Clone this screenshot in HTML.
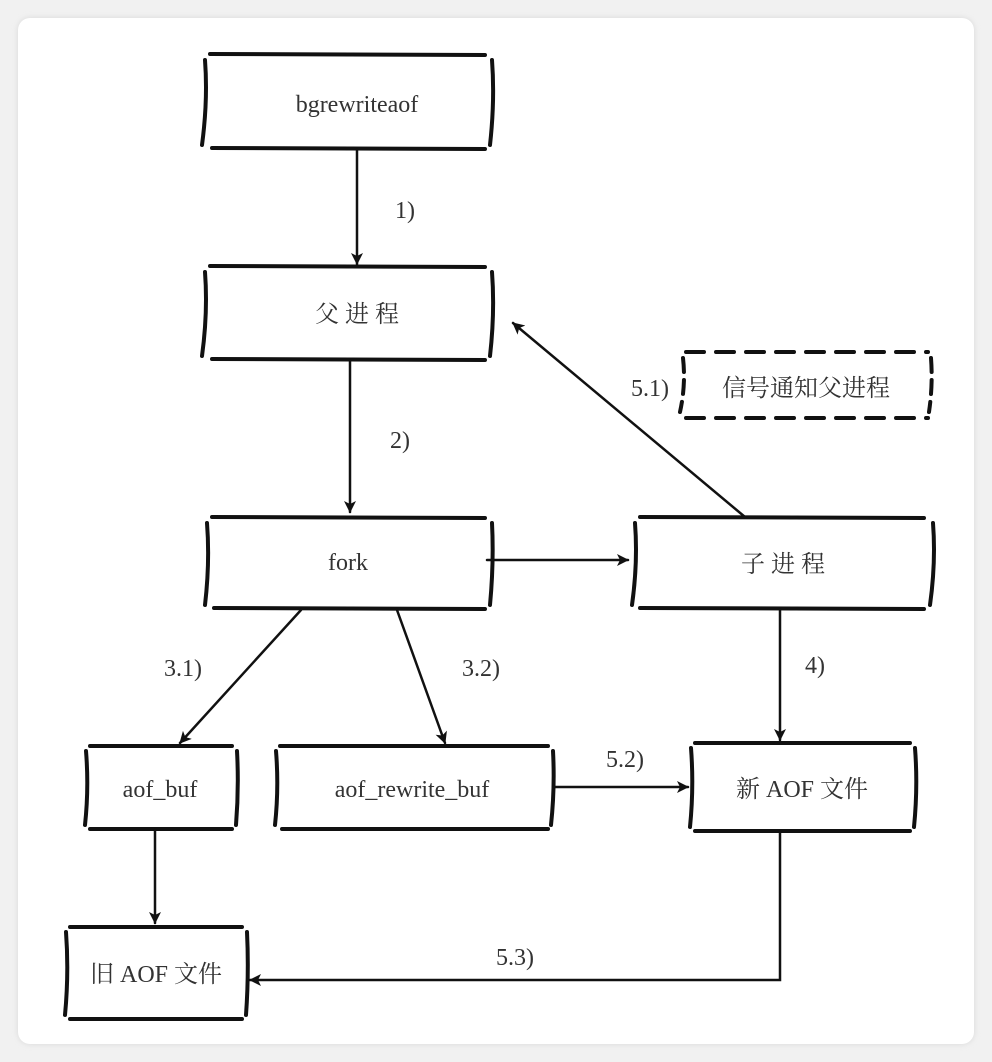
<!DOCTYPE html>
<html><head><meta charset="utf-8"><style>
html,body{margin:0;padding:0;background:#f1f1f1;}
svg{display:block}
text{font-family:"Liberation Serif","Noto Serif CJK SC",serif;fill:#333;}
</style></head><body>
<svg width="992" height="1062" viewBox="0 0 992 1062" xmlns="http://www.w3.org/2000/svg">
<defs>
<filter id="sh" x="-5%" y="-5%" width="110%" height="110%"><feGaussianBlur stdDeviation="3"/></filter>
<marker id="ah" markerWidth="12" markerHeight="12" refX="11" refY="6" orient="auto" markerUnits="userSpaceOnUse">
<path d="M0,0 L12,6 L0,12 L3,6 Z" fill="#111"/></marker>
</defs>
<rect x="18" y="18" width="956" height="1026" rx="12" fill="#d8d8d8" filter="url(#sh)"/>
<rect x="18" y="18" width="956" height="1026" rx="12" fill="#fff"/>
<g stroke="#111" fill="none" stroke-linecap="round">
<!-- boxes -->
<g stroke-width="4">
<!-- bgrewriteaof -->
<path d="M210,54 L485,55 M212,148 L485,149"/>
<path d="M205,60 Q208,100 202,145 M492,60 Q495,100 490,145"/>
<!-- 父进程 -->
<path d="M210,266 L485,267 M212,359 L485,360"/>
<path d="M205,272 Q208,312 202,356 M492,272 Q495,312 490,356"/>
<!-- fork -->
<path d="M212,517 L485,518 M214,608 L485,609"/>
<path d="M207,523 Q210,562 205,605 M492,523 Q494,562 490,605"/>
<!-- 子进程 -->
<path d="M640,517 L924,518 M640,608 L924,609"/>
<path d="M635,523 Q638,562 632,605 M933,523 Q936,562 930,605"/>
<!-- aof_buf -->
<path d="M90,746 L232,746 M90,829 L232,829"/>
<path d="M86,751 Q89,788 85,825 M237,751 Q239,788 236,825"/>
<!-- aof_rewrite_buf -->
<path d="M280,746 L548,746 M282,829 L548,829"/>
<path d="M276,751 Q279,788 275,825 M553,751 Q555,788 551,825"/>
<!-- 新AOF -->
<path d="M695,743 L910,743 M695,831 L910,831"/>
<path d="M691,748 Q694,787 690,827 M915,748 Q918,787 914,827"/>
<!-- 旧AOF -->
<path d="M70,927 L242,927 M70,1019 L242,1019"/>
<path d="M66,932 Q69,973 65,1015 M247,932 Q249,973 246,1015"/>
<!-- dashed -->
<path d="M686,352 L928,352 M686,418 L928,418" stroke-dasharray="18,12"/>
<path d="M683,358 Q686,385 680,412 M931,358 Q933,385 929,412" stroke-dasharray="14,8"/>
</g>
<!-- arrows -->
<g stroke-width="2.5" marker-end="url(#ah)">
<path d="M357,150 L357,264"/>
<path d="M350,361 L350,512"/>
<path d="M487,560 L628,560"/>
<path d="M745,517 L513,323"/>
<path d="M301,610 L180,743"/>
<path d="M397,610 L445,743"/>
<path d="M780,610 L780,740"/>
<path d="M553,787 L688,787"/>
<path d="M155,830 L155,923"/>
<path d="M780,832 L780,980 L250,980"/>
</g>
</g>
<g font-size="24" text-anchor="middle">
<text x="357" y="112">bgrewriteaof</text>
<text x="357" y="322">父 进 程</text>
<text x="348" y="570">fork</text>
<text x="783" y="572">子 进 程</text>
<text x="806" y="396">信号通知父进程</text>
<text x="160" y="797">aof_buf</text>
<text x="412" y="797">aof_rewrite_buf</text>
<text x="802" y="797">新 AOF 文件</text>
<text x="156" y="982">旧 AOF 文件</text>
<text x="405" y="218">1)</text>
<text x="400" y="448">2)</text>
<text x="650" y="396">5.1)</text>
<text x="183" y="676">3.1)</text>
<text x="481" y="676">3.2)</text>
<text x="815" y="673">4)</text>
<text x="625" y="767">5.2)</text>
<text x="515" y="965">5.3)</text>
</g>
</svg>
</body></html>
